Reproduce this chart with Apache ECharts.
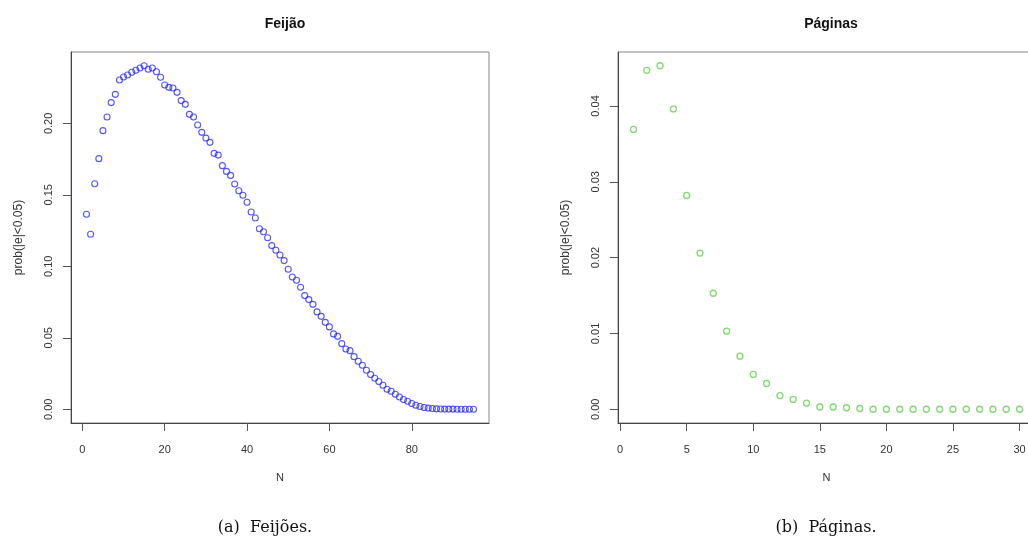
<!DOCTYPE html>
<html>
<head>
<meta charset="utf-8">
<script src="https://cdn.jsdelivr.net/npm/echarts@6/dist/echarts.min.js"></script>
<style>
  html, body { margin: 0; padding: 0; background: #fff; overflow: hidden; }
  /* the right-hand panel's frame runs a few pixels past the page edge */
  #chart { width: 1036px; height: 540px; }
</style>
</head>
<body>
<div id="chart"></div>
<script>
// prob(|e|<0.05) for sample sizes N = 1..95 (beans)
const feijaoProb = [
  0.1364, 0.1224, 0.1578, 0.1753, 0.1949, 0.2044, 0.2145, 0.2203, 0.2303, 0.2324,
  0.2338, 0.2357, 0.2371, 0.2387, 0.2403, 0.2378, 0.2387, 0.2361, 0.2322, 0.2268,
  0.2252, 0.2247, 0.2217, 0.2159, 0.2133, 0.2063, 0.2044, 0.1988, 0.1937, 0.1897,
  0.1867, 0.1790, 0.1778, 0.1704, 0.1664, 0.1636, 0.1576, 0.1529, 0.1497, 0.1448,
  0.1380, 0.1338, 0.1263, 0.1242, 0.1200, 0.1145, 0.1112, 0.1079, 0.1040, 0.0979,
  0.0925, 0.0902, 0.0853, 0.0795, 0.0767, 0.0734, 0.0681, 0.0650, 0.0608, 0.0576,
  0.0527, 0.0510, 0.0459, 0.0422, 0.0410, 0.0368, 0.0336, 0.0308, 0.0273, 0.0243,
  0.0217, 0.0194, 0.0168, 0.0140, 0.0126, 0.0105, 0.0086, 0.0068, 0.0056, 0.0040,
  0.0028, 0.0019, 0.0012, 0.0008, 0.0005, 0.0003, 0.0002, 0.0001, 0.0001, 0.0001,
  0.0000, 0.0000, 0.0000, 0.0000, 0.0000
];

// prob(|e|<0.05) for sample sizes N = 1..30 (pages)
const paginasProb = [
  0.0369, 0.0447, 0.0453, 0.0396, 0.0282, 0.0206, 0.0153, 0.0103, 0.0070, 0.0046,
  0.0034, 0.0018, 0.0013, 0.0008, 0.0003, 0.0003, 0.0002, 0.0001, 0.0000, 0.0000,
  0.0000, 0.0000, 0.0000, 0.0000, 0.0000, 0.0000, 0.0000, 0.0000, 0.0000, 0.0000
];

// tick labels
const feijaoXTicks = [0, 20, 40, 60, 80];
const feijaoYTicks = [0.00, 0.05, 0.10, 0.15, 0.20];
const paginasXTicks = [0, 5, 10, 15, 20, 25, 30];
const paginasYTicks = [0.00, 0.01, 0.02, 0.03, 0.04];

const titles = ['Feijão', 'Páginas'];
const captions = ['(a)  Feijões.', '(b)  Páginas.'];
const yName = 'prob(|e|<0.05)';
const xName = 'N';

// R-style axis range: data range padded 4% at each end
function padded(lo, hi) {
  const d = (hi - lo) * 0.04;
  return [lo - d, hi + d];
}

const feijaoPts = feijaoProb.map((v, i) => [i + 1, v]);
const paginasPts = paginasProb.map((v, i) => [i + 1, v]);

const fxr = padded(1, feijaoProb.length);
const fyr = padded(0, Math.max(...feijaoProb));
const pxr = padded(1, paginasProb.length);
const pyr = padded(0, Math.max(...paginasProb));

const FONT = '"Liberation Sans", Arial, sans-serif';
const SERIF = '"DejaVu Serif", "Liberation Serif", serif';
const txt = '#333';

function fmt2(v) { return v.toFixed(2); }

function xAxisDef(gi, range, ticks) {
  return {
    type: 'value', gridIndex: gi, min: range[0], max: range[1],
    splitLine: { show: false },
    axisLine: { show: true, onZero: false, lineStyle: { color: '#444', width: 1 } },
    axisTick: { show: true, customValues: ticks, length: 8, lineStyle: { color: '#555' } },
    axisLabel: { customValues: ticks, margin: 21, fontFamily: FONT, fontSize: 11, color: txt,
                 formatter: v => String(Math.round(v)) },
    name: xName, nameLocation: 'middle', nameGap: 49,
    nameTextStyle: { fontFamily: FONT, fontSize: 11, color: txt }
  };
}

function yAxisDef(gi, range, ticks) {
  return {
    type: 'value', gridIndex: gi, min: range[0], max: range[1],
    splitLine: { show: false },
    axisLine: { show: true, onZero: false, lineStyle: { color: '#444', width: 1 } },
    axisTick: { show: true, customValues: ticks, length: 8, lineStyle: { color: '#555' } },
    axisLabel: { customValues: ticks, rotate: 90, margin: 17, fontFamily: FONT, fontSize: 11,
                 color: txt, formatter: fmt2 },
    name: yName, nameLocation: 'middle', nameGap: 46, nameRotate: 90,
    nameTextStyle: { fontFamily: FONT, fontSize: 12, color: txt }
  };
}

function titleDef(text, x) {
  return { text: text, left: x, top: 12, textAlign: 'center',
           textStyle: { fontFamily: FONT, fontSize: 14, fontWeight: 'bold', color: '#111' } };
}

function captionDef(text, x) {
  return { text: text, left: x, top: 515, textAlign: 'center',
           textStyle: { fontFamily: SERIF, fontSize: 16, fontWeight: 'normal', color: '#111' } };
}

const option = {
  animation: false,
  backgroundColor: '#fff',
  title: [
    titleDef(titles[0], 280),
    titleDef(titles[1], 826),
    captionDef(captions[0], 260),
    captionDef(captions[1], 821)
  ],
  grid: [
    { left: 71, top: 52, width: 418, height: 371, show: true,
      borderColor: '#888', borderWidth: 1, backgroundColor: 'transparent' },
    { left: 618, top: 52, width: 417, height: 371, show: true,
      borderColor: '#888', borderWidth: 1, backgroundColor: 'transparent' }
  ],
  xAxis: [
    xAxisDef(0, fxr, feijaoXTicks),
    xAxisDef(1, pxr, paginasXTicks)
  ],
  yAxis: [
    yAxisDef(0, fyr, feijaoYTicks),
    yAxisDef(1, pyr, paginasYTicks)
  ],
  series: [
    {
      type: 'scatter', xAxisIndex: 0, yAxisIndex: 0, data: feijaoPts,
      symbol: 'circle', symbolSize: 6,
      itemStyle: { color: 'rgba(255,255,255,0)', borderColor: '#2a2aff', borderWidth: 1.1 },
      emphasis: { disabled: true }
    },
    {
      type: 'scatter', xAxisIndex: 1, yAxisIndex: 1, data: paginasPts,
      symbol: 'circle', symbolSize: 6,
      itemStyle: { color: 'rgba(255,255,255,0)', borderColor: '#61D04F', borderWidth: 1.3 },
      emphasis: { disabled: true }
    }
  ]
};

const chart = echarts.init(document.getElementById('chart'), null, { renderer: 'canvas' });
chart.setOption(option);
</script>
</body>
</html>
